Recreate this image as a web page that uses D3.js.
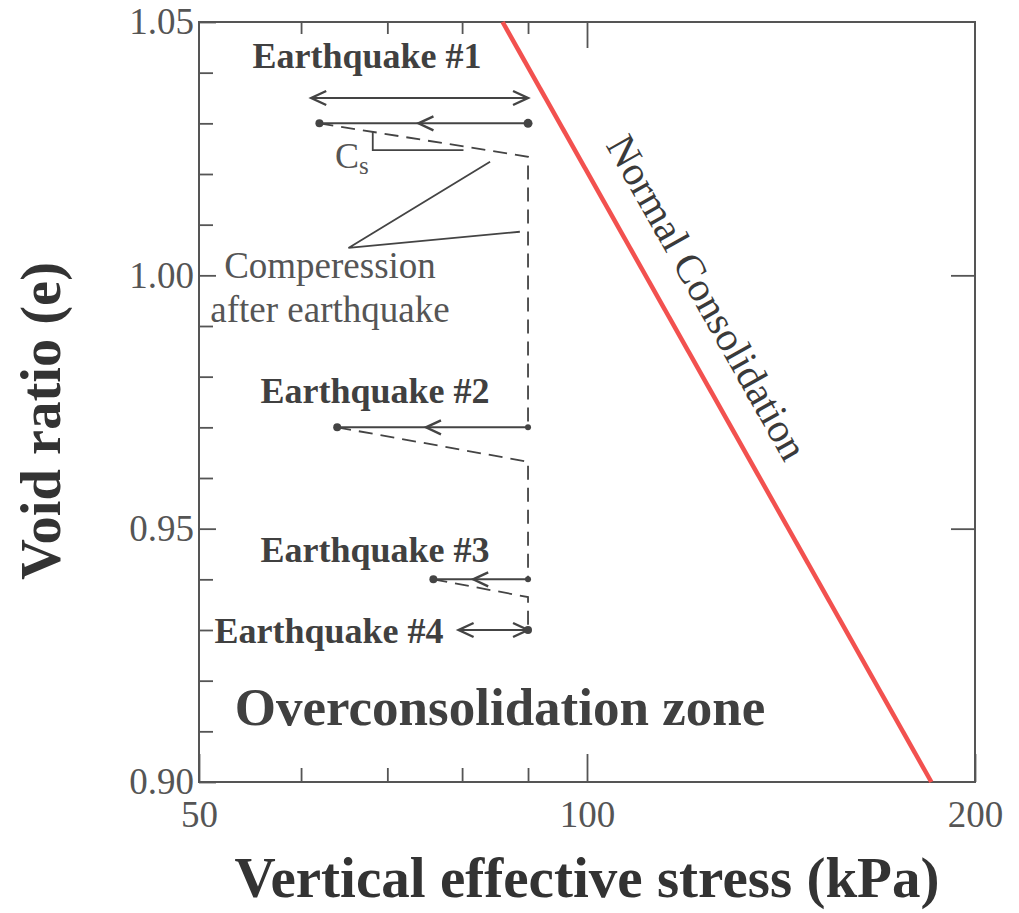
<!DOCTYPE html>
<html><head><meta charset="utf-8">
<script src="https://cdn.jsdelivr.net/npm/d3@7"></script>
<style>
body{margin:0;background:#fff}
svg{display:block}
text{font-family:"Liberation Serif","Times New Roman",serif}
</style>
</head><body>
<svg id="c" width="1019" height="913"></svg>
<script>
// ---- data ----
const xMajorTicks = [50, 100, 200];
const xMajorLabels = ["50", "100", "200"];
const xMinorTicks = [60, 70, 80, 90];
const yMajorTicks = [0.90, 0.95, 1.00, 1.05];
const yMajorLabels = ["0.90", "0.95", "1.00", "1.05"];
const yMinorTicks = [0.91, 0.92, 0.93, 0.94, 0.96, 0.97, 0.98, 0.99, 1.01, 1.02, 1.03, 1.04];

// normal consolidation line
const ncStress = [86.0, 185.0];
const ncVoid = [1.05, 0.90];

// earthquakes
const eqNames = ["Earthquake #1", "Earthquake #2", "Earthquake #3", "Earthquake #4"];
const eqVoid = [1.03, 0.97, 0.94, 0.93];
const eqStartStress = [90, 90, 90, 90];
const eqLowStress = [62, 64, 76, 79.5];
const eqArrowStress = [74, 75, 81.6];        // mid arrows pointing to lower stress
const eq1RangeStress = [61.1, 90];            // double arrow above earthquake #1
const eq1RangeVoid = 1.035;

// recompression (Cs) after each earthquake, then compression down to next earthquake
const recompStressFrom = [62, 64, 76];
const recompStressTo = [90, 90, 90];
const recompVoidEnd = [1.0234, 0.9632, 0.9365];
const compVoidEnd = [0.97, 0.94, 0.93];

// annotation leaders (data units)
const csLeaderStress = [68.2, 68.2, 80.2];
const csLeaderVoid = [1.0283, 1.0247, 1.0247];
const compLeaderStress = [84.1, 65.3, 88.7];
const compLeaderVoid = [1.0224, 1.0054, 1.0086];

// ---- chart ----
const svg = d3.select("#c");
const L = 199, R = 975, T = 22, B = 782;
const x = d3.scaleLog().domain([50, 200]).range([L, R]);
const y = d3.scaleLinear().domain([0.90, 1.05]).range([B, T]);
const ink = "#444", axisInk = "#555";

function styleAxis(g) {
  g.select(".domain").remove();
  g.selectAll(".tick line").attr("stroke", axisInk).attr("stroke-width", 1.8);
  g.selectAll(".tick text").attr("fill", "#555").style("font-size", "37px")
    .style("font-family", '"Liberation Serif","Times New Roman",serif');
}

// bottom
svg.append("g").attr("transform", `translate(0,${B})`)
  .call(d3.axisBottom(x).tickValues(xMajorTicks).tickSize(-28).tickPadding(19)
    .tickFormat((d, i) => xMajorLabels[i])).call(styleAxis);
svg.append("g").attr("transform", `translate(0,${B})`)
  .call(d3.axisBottom(x).tickValues(xMinorTicks).tickSize(-14).tickFormat("")).call(styleAxis);
// top
svg.append("g").attr("transform", `translate(0,${T})`)
  .call(d3.axisTop(x).tickValues([100]).tickSize(-26).tickFormat("")).call(styleAxis);
svg.append("g").attr("transform", `translate(0,${T})`)
  .call(d3.axisTop(x).tickValues(xMinorTicks).tickSize(-12).tickFormat("")).call(styleAxis);
// left
svg.append("g").attr("transform", `translate(${L},0)`)
  .call(d3.axisLeft(y).tickValues(yMajorTicks).tickSize(-17).tickPadding(5)
    .tickFormat((d, i) => yMajorLabels[i])).call(styleAxis);
svg.append("g").attr("transform", `translate(${L},0)`)
  .call(d3.axisLeft(y).tickValues(yMinorTicks).tickSize(-14).tickFormat("")).call(styleAxis);
// right
svg.append("g").attr("transform", `translate(${R},0)`)
  .call(d3.axisRight(y).tickValues([0.95, 1.00]).tickSize(-24).tickFormat("")).call(styleAxis);

// frame
svg.append("rect").attr("x", L).attr("y", T).attr("width", R - L).attr("height", B - T)
  .attr("fill", "none").attr("stroke", axisInk).attr("stroke-width", 2);

// normal consolidation line
const ncPts = ncStress.map((s, i) => [x(s), y(ncVoid[i])]);
svg.append("path").attr("d", d3.line()(ncPts))
  .attr("stroke", "#f2514f").attr("stroke-width", 4.5).attr("fill", "none");

// Normal Consolidation label along the line
{
  const [p0, p1] = ncPts;
  const ang = Math.atan2(p1[1] - p0[1], p1[0] - p0[0]);
  const t = 0.39;
  const mx = p0[0] + (p1[0] - p0[0]) * t, my = p0[1] + (p1[1] - p0[1]) * t;
  const off = 29;
  const nx = Math.sin(ang), ny = -Math.cos(ang);
  svg.append("text")
    .attr("transform", `translate(${mx + nx * off},${my + ny * off}) rotate(${ang * 180 / Math.PI})`)
    .attr("text-anchor", "middle").attr("fill", "#3a3a3a").style("font-size", "41px")
    .text("Normal Consolidation");
}

const line = d3.line();
function seg(pts, dashed, w) {
  svg.append("path").attr("d", line(pts)).attr("fill", "none")
    .attr("stroke", ink).attr("stroke-width", w || 2)
    .attr("stroke-dasharray", dashed ? "14,8" : null);
}
function chevron(px, py, dir) { // dir -1 : points left, +1 : points right
  const a = 15, b = 7;
  svg.append("path")
    .attr("d", `M${px - dir * a},${py - b}L${px},${py}L${px - dir * a},${py + b}`)
    .attr("fill", "none").attr("stroke", ink).attr("stroke-width", 2.4)
    .attr("stroke-linejoin", "miter");
}
function dot(px, py, r) {
  svg.append("circle").attr("cx", px).attr("cy", py).attr("r", r).attr("fill", ink);
}

// dashed recompression and compression paths
recompStressFrom.forEach((s, i) => {
  seg([[x(s), y(eqVoid[i])], [x(recompStressTo[i]), y(recompVoidEnd[i])],
       [x(recompStressTo[i]), y(compVoidEnd[i])]], true, 1.8);
});

// double arrow above earthquake #1
{
  const yy = y(eq1RangeVoid);
  seg([[x(eq1RangeStress[0]), yy], [x(eq1RangeStress[1]), yy]], false, 2);
  chevron(x(eq1RangeStress[0]), yy, -1);
  chevron(x(eq1RangeStress[1]), yy, 1);
}

// earthquake unloading lines
eqVoid.forEach((e, i) => {
  const yy = y(e);
  seg([[x(eqLowStress[i]), yy], [x(eqStartStress[i]), yy]], false, 2);
  if (i < 3) {
    chevron(x(eqArrowStress[i]), yy, -1);
    dot(x(eqLowStress[i]), yy, 4);
    dot(x(eqStartStress[i]), yy, i === 0 ? 4.5 : 3);
  } else {
    chevron(x(eqLowStress[i]), yy, -1);
    chevron(x(eqStartStress[i]), yy, 1);
    dot(x(eqStartStress[i]), yy, 4);
  }
});

// Cs leader
seg(csLeaderStress.map((s, i) => [x(s), y(csLeaderVoid[i])]), false, 1.8);
// compression leader
seg(compLeaderStress.map((s, i) => [x(s), y(compLeaderVoid[i])]), false, 1.8);

// texts
const eqLabelPos = [[367, 68], [375, 403], [375, 562], [329, 643]];
eqNames.forEach((n, i) => {
  svg.append("text").attr("x", eqLabelPos[i][0]).attr("y", eqLabelPos[i][1])
    .attr("text-anchor", "middle").attr("fill", "#404040")
    .style("font-size", "36px").style("font-weight", "bold").text(n);
});

const cs = svg.append("text").attr("x", 335).attr("y", 168).attr("fill", "#555").style("font-size", "36px");
cs.append("tspan").text("C");
cs.append("tspan").attr("dy", 6).style("font-size", "25px").text("s");

svg.append("text").attr("x", 330).attr("y", 278).attr("text-anchor", "middle")
  .attr("fill", "#555").style("font-size", "37px").text("Comperession");
svg.append("text").attr("x", 330).attr("y", 322).attr("text-anchor", "middle")
  .attr("fill", "#555").style("font-size", "37px").text("after earthquake");

svg.append("text").attr("x", 500).attr("y", 725).attr("text-anchor", "middle")
  .attr("fill", "#404040").style("font-size", "53px").style("font-weight", "bold")
  .text("Overconsolidation zone");

// axis titles
svg.append("text").attr("x", 587).attr("y", 897).attr("text-anchor", "middle")
  .attr("fill", "#333").style("font-size", "56px").style("font-weight", "bold")
  .attr("textLength", 705).attr("lengthAdjust", "spacingAndGlyphs")
  .text("Vertical effective stress (kPa)");
svg.append("text").attr("transform", "translate(60,421) rotate(-90)")
  .attr("text-anchor", "middle").attr("fill", "#333").style("font-size", "56px")
  .style("font-weight", "bold").attr("textLength", 318).attr("lengthAdjust", "spacingAndGlyphs")
  .text("Void ratio (e)");
</script>
</body></html>
